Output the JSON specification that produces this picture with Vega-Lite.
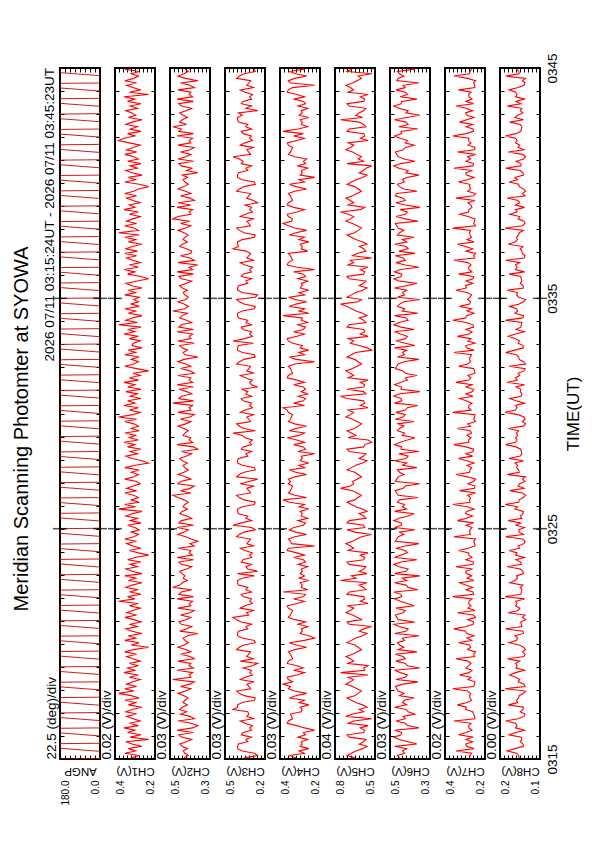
{
"$schema":"https://vega.github.io/schema/vega-lite/v6.json",
"background":"white",
"padding":{"left":11,"top":51,"right":0,"bottom":0},
"title":{"text":"Meridian Scanning Photomter at SYOWA","orient":"left","anchor":"middle","fontSize":20,"offset":10},
"spacing":15,
"bounds":"flush",
"datasets":{
"g":[
{"t":0,"a":180},{"t":1,"a":0},{"t":20,"a":0},{"t":28,"a":180},
{"t":40,"a":180},{"t":41,"a":0},{"t":60,"a":0},{"t":68,"a":180},
{"t":80,"a":180},{"t":81,"a":0},{"t":100,"a":0},{"t":108,"a":180},
{"t":120,"a":180},{"t":121,"a":0},{"t":140,"a":0},{"t":148,"a":180},
{"t":160,"a":180},{"t":161,"a":0},{"t":180,"a":0},{"t":188,"a":180},
{"t":200,"a":180},{"t":201,"a":0},{"t":220,"a":0},{"t":228,"a":180},
{"t":240,"a":180},{"t":241,"a":0},{"t":260,"a":0},{"t":268,"a":180},
{"t":280,"a":180},{"t":281,"a":0},{"t":300,"a":0},{"t":308,"a":180},
{"t":320,"a":180},{"t":321,"a":0},{"t":340,"a":0},{"t":348,"a":180},
{"t":360,"a":180},{"t":361,"a":0},{"t":380,"a":0},{"t":388,"a":180},
{"t":400,"a":180},{"t":401,"a":0},{"t":420,"a":0},{"t":428,"a":180},
{"t":440,"a":180},{"t":441,"a":0},{"t":460,"a":0},{"t":468,"a":180},
{"t":480,"a":180},{"t":481,"a":0},{"t":500,"a":0},{"t":508,"a":180},
{"t":520,"a":180},{"t":521,"a":0},{"t":540,"a":0},{"t":548,"a":180},
{"t":560,"a":180},{"t":561,"a":0},{"t":580,"a":0},{"t":588,"a":180},
{"t":600,"a":180},{"t":601,"a":0},{"t":620,"a":0},{"t":628,"a":180},
{"t":640,"a":180},{"t":641,"a":0},{"t":660,"a":0},{"t":668,"a":180},
{"t":680,"a":180},{"t":681,"a":0},{"t":700,"a":0},{"t":708,"a":180},
{"t":720,"a":180},{"t":721,"a":0},{"t":740,"a":0},{"t":748,"a":180},
{"t":760,"a":180},{"t":761,"a":0},{"t":780,"a":0},{"t":788,"a":180},
{"t":800,"a":180},{"t":801,"a":0},{"t":820,"a":0},{"t":828,"a":180},
{"t":840,"a":180},{"t":841,"a":0},{"t":860,"a":0},{"t":868,"a":180},
{"t":880,"a":180},{"t":881,"a":0},{"t":900,"a":0},{"t":908,"a":180},
{"t":920,"a":180},{"t":921,"a":0},{"t":940,"a":0},{"t":948,"a":180},
{"t":960,"a":180},{"t":961,"a":0},{"t":980,"a":0},{"t":988,"a":180},
{"t":1000,"a":180},{"t":1001,"a":0},{"t":1020,"a":0},{"t":1028,"a":180},
{"t":1040,"a":180},{"t":1041,"a":0},{"t":1060,"a":0},{"t":1068,"a":180},
{"t":1080,"a":180},{"t":1081,"a":0},{"t":1100,"a":0},{"t":1108,"a":180},
{"t":1120,"a":180},{"t":1121,"a":0},{"t":1140,"a":0},{"t":1148,"a":180},
{"t":1160,"a":180},{"t":1161,"a":0},{"t":1180,"a":0},{"t":1188,"a":180},
{"t":1200,"a":180},{"t":1201,"a":0},{"t":1220,"a":0},{"t":1228,"a":180},
{"t":1240,"a":180},{"t":1241,"a":0},{"t":1260,"a":0},{"t":1268,"a":180},
{"t":1280,"a":180},{"t":1281,"a":0},{"t":1300,"a":0},{"t":1308,"a":180},
{"t":1320,"a":180},{"t":1321,"a":0},{"t":1340,"a":0},{"t":1348,"a":180},
{"t":1360,"a":180},{"t":1361,"a":0},{"t":1380,"a":0},{"t":1388,"a":180},
{"t":1400,"a":180},{"t":1401,"a":0},{"t":1420,"a":0},{"t":1428,"a":180},
{"t":1440,"a":180},{"t":1441,"a":0},{"t":1460,"a":0},{"t":1468,"a":180},
{"t":1480,"a":180},{"t":1481,"a":0},{"t":1500,"a":0},{"t":1508,"a":180},
{"t":1520,"a":180},{"t":1521,"a":0},{"t":1540,"a":0},{"t":1548,"a":180},
{"t":1560,"a":180},{"t":1561,"a":0},{"t":1580,"a":0},{"t":1588,"a":180},
{"t":1600,"a":180},{"t":1601,"a":0},{"t":1620,"a":0},{"t":1628,"a":180},
{"t":1640,"a":180},{"t":1641,"a":0},{"t":1660,"a":0},{"t":1668,"a":180},
{"t":1680,"a":180},{"t":1681,"a":0},{"t":1700,"a":0},{"t":1708,"a":180},
{"t":1720,"a":180},{"t":1721,"a":0},{"t":1740,"a":0},{"t":1748,"a":180},
{"t":1760,"a":180},{"t":1761,"a":0},{"t":1780,"a":0},{"t":1788,"a":180},
{"t":1800,"a":180}
],
"d":[
{"t":3,"c1":0.319,"c2":0.442,"c3":0.357,"c4":0.327,"c5":0.642,"c6":0.473,"c7":0.277,"c8":0.1556},
{"t":9,"c1":0.279,"c2":0.412,"c3":0.255,"c4":0.369,"c5":0.712,"c6":0.488,"c7":0.275,"c8":0.156},
{"t":15,"c1":0.351,"c2":0.436,"c3":0.28,"c4":0.271,"c5":0.672,"c6":0.438,"c7":0.267,"c8":0.1576},
{"t":21,"c1":0.297,"c2":0.448,"c3":0.371,"c4":0.306,"c5":0.632,"c6":0.453,"c7":0.345,"c8":0.1645},
{"t":27,"c1":0.333,"c2":0.418,"c3":0.406,"c4":0.243,"c5":0.572,"c6":0.423,"c7":0.255,"c8":0.1588},
{"t":33,"c1":0.265,"c2":0.454,"c3":0.406,"c4":0.299,"c5":0.532,"c6":0.508,"c7":0.292,"c8":0.1524},
{"t":39,"c1":0.315,"c2":0.472,"c3":0.399,"c4":0.285,"c5":0.602,"c6":0.352,"c7":0.297,"c8":0.1528},
{"t":45,"c1":0.346,"c2":0.424,"c3":0.329,"c4":0.292,"c5":0.562,"c6":0.413,"c7":0.262,"c8":0.1548},
{"t":51,"c1":0.232,"c2":0.388,"c3":0.343,"c4":0.25,"c5":0.542,"c6":0.478,"c7":0.295,"c8":0.1536},
{"t":57,"c1":0.324,"c2":0.46,"c3":0.301,"c4":0.313,"c5":0.692,"c6":0.513,"c7":0.26,"c8":0.154},
{"t":63,"c1":0.27,"c2":0.478,"c3":0.378,"c4":0.264,"c5":0.712,"c6":0.463,"c7":0.332,"c8":0.1632},
{"t":69,"c1":0.337,"c2":0.376,"c3":0.364,"c4":0.278,"c5":0.562,"c6":0.458,"c7":0.295,"c8":0.158},
{"t":75,"c1":0.301,"c2":0.49,"c3":0.301,"c4":0.205,"c5":0.552,"c6":0.508,"c7":0.265,"c8":0.1516},
{"t":81,"c1":0.355,"c2":0.382,"c3":0.315,"c4":0.271,"c5":0.592,"c6":0.338,"c7":0.28,"c8":0.1584},
{"t":87,"c1":0.283,"c2":0.345,"c3":0.294,"c4":0.32,"c5":0.522,"c6":0.418,"c7":0.282,"c8":0.1572},
{"t":93,"c1":0.328,"c2":0.394,"c3":0.35,"c4":0.383,"c5":0.702,"c6":0.433,"c7":0.27,"c8":0.1584},
{"t":99,"c1":0.274,"c2":0.484,"c3":0.385,"c4":0.376,"c5":0.652,"c6":0.498,"c7":0.356,"c8":0.1658},
{"t":105,"c1":0.31,"c2":0.37,"c3":0.287,"c4":0.348,"c5":0.49,"c6":0.433,"c7":0.25,"c8":0.1564},
{"t":111,"c1":0.342,"c2":0.4,"c3":0.336,"c4":0.355,"c5":0.722,"c6":0.448,"c7":0.252,"c8":0.152},
{"t":117,"c1":0.292,"c2":0.466,"c3":0.322,"c4":0.362,"c5":0.662,"c6":0.366,"c7":0.257,"c8":0.1512},
{"t":123,"c1":0.346,"c2":0.424,"c3":0.329,"c4":0.292,"c5":0.562,"c6":0.413,"c7":0.262,"c8":0.1548},
{"t":129,"c1":0.315,"c2":0.472,"c3":0.44,"c4":0.285,"c5":0.602,"c6":0.428,"c7":0.297,"c8":0.1528},
{"t":135,"c1":0.265,"c2":0.454,"c3":0.406,"c4":0.299,"c5":0.532,"c6":0.508,"c7":0.292,"c8":0.1524},
{"t":141,"c1":0.333,"c2":0.418,"c3":0.406,"c4":0.243,"c5":0.572,"c6":0.423,"c7":0.338,"c8":0.1638},
{"t":147,"c1":0.297,"c2":0.448,"c3":0.371,"c4":0.306,"c5":0.632,"c6":0.453,"c7":0.29,"c8":0.1568},
{"t":153,"c1":0.351,"c2":0.436,"c3":0.28,"c4":0.271,"c5":0.672,"c6":0.438,"c7":0.267,"c8":0.1576},
{"t":159,"c1":0.279,"c2":0.412,"c3":0.273,"c4":0.369,"c5":0.712,"c6":0.371,"c7":0.275,"c8":0.156},
{"t":165,"c1":0.319,"c2":0.442,"c3":0.357,"c4":0.327,"c5":0.642,"c6":0.473,"c7":0.277,"c8":0.1556},
{"t":171,"c1":0.382,"c2":0.484,"c3":0.392,"c4":0.257,"c5":0.612,"c6":0.443,"c7":0.272,"c8":0.1524},
{"t":177,"c1":0.306,"c2":0.43,"c3":0.413,"c4":0.334,"c5":0.582,"c6":0.483,"c7":0.287,"c8":0.1508},
{"t":183,"c1":0.351,"c2":0.394,"c3":0.308,"c4":0.376,"c5":0.622,"c6":0.493,"c7":0.361,"c8":0.1661},
{"t":189,"c1":0.292,"c2":0.466,"c3":0.322,"c4":0.362,"c5":0.662,"c6":0.503,"c7":0.257,"c8":0.1512},
{"t":195,"c1":0.342,"c2":0.4,"c3":0.336,"c4":0.41,"c5":0.722,"c6":0.448,"c7":0.252,"c8":0.152},
{"t":201,"c1":0.31,"c2":0.37,"c3":0.287,"c4":0.348,"c5":0.682,"c6":0.345,"c7":0.25,"c8":0.1564},
{"t":207,"c1":0.274,"c2":0.52,"c3":0.385,"c4":0.376,"c5":0.652,"c6":0.498,"c7":0.285,"c8":0.1552},
{"t":213,"c1":0.328,"c2":0.394,"c3":0.35,"c4":0.383,"c5":0.702,"c6":0.433,"c7":0.27,"c8":0.1584},
{"t":219,"c1":0.283,"c2":0.406,"c3":0.294,"c4":0.32,"c5":0.522,"c6":0.418,"c7":0.327,"c8":0.1627},
{"t":225,"c1":0.355,"c2":0.382,"c3":0.315,"c4":0.271,"c5":0.77,"c6":0.468,"c7":0.28,"c8":0.1584},
{"t":231,"c1":0.301,"c2":0.49,"c3":0.301,"c4":0.341,"c5":0.552,"c6":0.508,"c7":0.265,"c8":0.1516},
{"t":237,"c1":0.337,"c2":0.376,"c3":0.364,"c4":0.278,"c5":0.562,"c6":0.331,"c7":0.295,"c8":0.158},
{"t":243,"c1":0.283,"c2":0.406,"c3":0.294,"c4":0.32,"c5":0.522,"c6":0.418,"c7":0.282,"c8":0.1572},
{"t":249,"c1":0.328,"c2":0.394,"c3":0.255,"c4":0.383,"c5":0.702,"c6":0.433,"c7":0.27,"c8":0.1584},
{"t":255,"c1":0.274,"c2":0.484,"c3":0.385,"c4":0.376,"c5":0.652,"c6":0.498,"c7":0.285,"c8":0.1552},
{"t":261,"c1":0.31,"c2":0.37,"c3":0.287,"c4":0.348,"c5":0.682,"c6":0.433,"c7":0.345,"c8":0.1645},
{"t":267,"c1":0.342,"c2":0.4,"c3":0.336,"c4":0.355,"c5":0.722,"c6":0.448,"c7":0.252,"c8":0.152},
{"t":273,"c1":0.292,"c2":0.466,"c3":0.322,"c4":0.362,"c5":0.662,"c6":0.503,"c7":0.257,"c8":0.1512},
{"t":279,"c1":0.351,"c2":0.394,"c3":0.308,"c4":0.376,"c5":0.622,"c6":0.352,"c7":0.247,"c8":0.1532},
{"t":285,"c1":0.306,"c2":0.43,"c3":0.413,"c4":0.334,"c5":0.582,"c6":0.483,"c7":0.287,"c8":0.1508},
{"t":291,"c1":0.232,"c2":0.484,"c3":0.392,"c4":0.257,"c5":0.612,"c6":0.443,"c7":0.272,"c8":0.1524},
{"t":297,"c1":0.319,"c2":0.442,"c3":0.357,"c4":0.327,"c5":0.642,"c6":0.473,"c7":0.277,"c8":0.1556},
{"t":303,"c1":0.279,"c2":0.412,"c3":0.273,"c4":0.369,"c5":0.712,"c6":0.488,"c7":0.332,"c8":0.1632},
{"t":309,"c1":0.351,"c2":0.436,"c3":0.28,"c4":0.271,"c5":0.672,"c6":0.438,"c7":0.267,"c8":0.1576},
{"t":315,"c1":0.297,"c2":0.448,"c3":0.371,"c4":0.205,"c5":0.632,"c6":0.453,"c7":0.29,"c8":0.1568},
{"t":321,"c1":0.333,"c2":0.418,"c3":0.406,"c4":0.243,"c5":0.572,"c6":0.338,"c7":0.255,"c8":0.1588},
{"t":327,"c1":0.265,"c2":0.345,"c3":0.406,"c4":0.299,"c5":0.532,"c6":0.508,"c7":0.292,"c8":0.1524},
{"t":333,"c1":0.315,"c2":0.472,"c3":0.399,"c4":0.285,"c5":0.602,"c6":0.428,"c7":0.297,"c8":0.1528},
{"t":339,"c1":0.346,"c2":0.424,"c3":0.329,"c4":0.292,"c5":0.562,"c6":0.413,"c7":0.356,"c8":0.1658},
{"t":345,"c1":0.288,"c2":0.388,"c3":0.343,"c4":0.25,"c5":0.49,"c6":0.478,"c7":0.295,"c8":0.1536},
{"t":351,"c1":0.324,"c2":0.46,"c3":0.301,"c4":0.313,"c5":0.692,"c6":0.513,"c7":0.26,"c8":0.154},
{"t":357,"c1":0.27,"c2":0.478,"c3":0.378,"c4":0.264,"c5":0.712,"c6":0.366,"c7":0.257,"c8":0.1544},
{"t":363,"c1":0.306,"c2":0.43,"c3":0.413,"c4":0.334,"c5":0.582,"c6":0.483,"c7":0.287,"c8":0.1508},
{"t":369,"c1":0.351,"c2":0.394,"c3":0.44,"c4":0.376,"c5":0.622,"c6":0.493,"c7":0.247,"c8":0.1532},
{"t":375,"c1":0.292,"c2":0.466,"c3":0.322,"c4":0.362,"c5":0.662,"c6":0.503,"c7":0.257,"c8":0.1512},
{"t":381,"c1":0.342,"c2":0.4,"c3":0.336,"c4":0.355,"c5":0.722,"c6":0.448,"c7":0.338,"c8":0.1638},
{"t":387,"c1":0.31,"c2":0.37,"c3":0.287,"c4":0.348,"c5":0.682,"c6":0.433,"c7":0.25,"c8":0.1564},
{"t":393,"c1":0.274,"c2":0.484,"c3":0.385,"c4":0.376,"c5":0.652,"c6":0.498,"c7":0.285,"c8":0.1552},
{"t":399,"c1":0.328,"c2":0.394,"c3":0.35,"c4":0.383,"c5":0.702,"c6":0.371,"c7":0.27,"c8":0.1584},
{"t":405,"c1":0.283,"c2":0.406,"c3":0.294,"c4":0.32,"c5":0.522,"c6":0.418,"c7":0.282,"c8":0.1572},
{"t":411,"c1":0.382,"c2":0.382,"c3":0.315,"c4":0.271,"c5":0.592,"c6":0.468,"c7":0.28,"c8":0.1584},
{"t":417,"c1":0.301,"c2":0.49,"c3":0.301,"c4":0.341,"c5":0.552,"c6":0.508,"c7":0.265,"c8":0.1516},
{"t":423,"c1":0.337,"c2":0.376,"c3":0.364,"c4":0.278,"c5":0.562,"c6":0.458,"c7":0.361,"c8":0.1661},
{"t":429,"c1":0.27,"c2":0.478,"c3":0.378,"c4":0.264,"c5":0.712,"c6":0.463,"c7":0.257,"c8":0.1544},
{"t":435,"c1":0.324,"c2":0.46,"c3":0.301,"c4":0.41,"c5":0.692,"c6":0.513,"c7":0.26,"c8":0.154},
{"t":441,"c1":0.288,"c2":0.388,"c3":0.343,"c4":0.25,"c5":0.542,"c6":0.345,"c7":0.295,"c8":0.1536},
{"t":447,"c1":0.346,"c2":0.52,"c3":0.329,"c4":0.292,"c5":0.562,"c6":0.413,"c7":0.262,"c8":0.1548},
{"t":453,"c1":0.315,"c2":0.472,"c3":0.399,"c4":0.285,"c5":0.602,"c6":0.428,"c7":0.297,"c8":0.1528},
{"t":459,"c1":0.265,"c2":0.454,"c3":0.406,"c4":0.299,"c5":0.532,"c6":0.508,"c7":0.327,"c8":0.1627},
{"t":465,"c1":0.333,"c2":0.418,"c3":0.406,"c4":0.243,"c5":0.77,"c6":0.423,"c7":0.255,"c8":0.1588},
{"t":471,"c1":0.297,"c2":0.448,"c3":0.371,"c4":0.306,"c5":0.632,"c6":0.453,"c7":0.29,"c8":0.1568},
{"t":477,"c1":0.351,"c2":0.436,"c3":0.28,"c4":0.271,"c5":0.672,"c6":0.331,"c7":0.267,"c8":0.1576},
{"t":483,"c1":0.265,"c2":0.454,"c3":0.406,"c4":0.299,"c5":0.532,"c6":0.508,"c7":0.292,"c8":0.1524},
{"t":489,"c1":0.315,"c2":0.472,"c3":0.255,"c4":0.285,"c5":0.602,"c6":0.428,"c7":0.297,"c8":0.1528},
{"t":495,"c1":0.346,"c2":0.424,"c3":0.329,"c4":0.292,"c5":0.562,"c6":0.413,"c7":0.262,"c8":0.1548},
{"t":501,"c1":0.288,"c2":0.388,"c3":0.343,"c4":0.25,"c5":0.542,"c6":0.478,"c7":0.345,"c8":0.1645},
{"t":507,"c1":0.324,"c2":0.46,"c3":0.301,"c4":0.313,"c5":0.692,"c6":0.513,"c7":0.26,"c8":0.154},
{"t":513,"c1":0.27,"c2":0.478,"c3":0.378,"c4":0.264,"c5":0.712,"c6":0.463,"c7":0.257,"c8":0.1544},
{"t":519,"c1":0.337,"c2":0.376,"c3":0.364,"c4":0.278,"c5":0.562,"c6":0.352,"c7":0.295,"c8":0.158},
{"t":525,"c1":0.301,"c2":0.49,"c3":0.301,"c4":0.341,"c5":0.552,"c6":0.508,"c7":0.265,"c8":0.1516},
{"t":531,"c1":0.232,"c2":0.382,"c3":0.315,"c4":0.271,"c5":0.592,"c6":0.468,"c7":0.28,"c8":0.1584},
{"t":537,"c1":0.283,"c2":0.406,"c3":0.294,"c4":0.32,"c5":0.522,"c6":0.418,"c7":0.282,"c8":0.1572},
{"t":543,"c1":0.328,"c2":0.394,"c3":0.35,"c4":0.383,"c5":0.702,"c6":0.433,"c7":0.332,"c8":0.1632},
{"t":549,"c1":0.274,"c2":0.484,"c3":0.385,"c4":0.376,"c5":0.652,"c6":0.498,"c7":0.285,"c8":0.1552},
{"t":555,"c1":0.31,"c2":0.37,"c3":0.287,"c4":0.205,"c5":0.682,"c6":0.433,"c7":0.25,"c8":0.1564},
{"t":561,"c1":0.342,"c2":0.4,"c3":0.336,"c4":0.355,"c5":0.722,"c6":0.338,"c7":0.252,"c8":0.152},
{"t":567,"c1":0.292,"c2":0.345,"c3":0.322,"c4":0.362,"c5":0.662,"c6":0.503,"c7":0.257,"c8":0.1512},
{"t":573,"c1":0.351,"c2":0.394,"c3":0.308,"c4":0.376,"c5":0.622,"c6":0.493,"c7":0.247,"c8":0.1532},
{"t":579,"c1":0.306,"c2":0.43,"c3":0.413,"c4":0.334,"c5":0.582,"c6":0.483,"c7":0.356,"c8":0.1658},
{"t":585,"c1":0.283,"c2":0.484,"c3":0.392,"c4":0.257,"c5":0.49,"c6":0.443,"c7":0.272,"c8":0.1524},
{"t":591,"c1":0.319,"c2":0.442,"c3":0.357,"c4":0.327,"c5":0.642,"c6":0.473,"c7":0.277,"c8":0.1556},
{"t":597,"c1":0.279,"c2":0.412,"c3":0.273,"c4":0.369,"c5":0.712,"c6":0.366,"c7":0.275,"c8":0.156},
{"t":603,"c1":0.301,"c2":0.49,"c3":0.301,"c4":0.341,"c5":0.552,"c6":0.508,"c7":0.265,"c8":0.1516},
{"t":609,"c1":0.337,"c2":0.376,"c3":0.44,"c4":0.278,"c5":0.562,"c6":0.458,"c7":0.295,"c8":0.158},
{"t":615,"c1":0.27,"c2":0.478,"c3":0.378,"c4":0.264,"c5":0.712,"c6":0.463,"c7":0.257,"c8":0.1544},
{"t":621,"c1":0.324,"c2":0.46,"c3":0.301,"c4":0.313,"c5":0.692,"c6":0.513,"c7":0.338,"c8":0.1638},
{"t":627,"c1":0.288,"c2":0.388,"c3":0.343,"c4":0.25,"c5":0.542,"c6":0.478,"c7":0.295,"c8":0.1536},
{"t":633,"c1":0.346,"c2":0.424,"c3":0.329,"c4":0.292,"c5":0.562,"c6":0.413,"c7":0.262,"c8":0.1548},
{"t":639,"c1":0.315,"c2":0.472,"c3":0.399,"c4":0.285,"c5":0.602,"c6":0.371,"c7":0.297,"c8":0.1528},
{"t":645,"c1":0.265,"c2":0.454,"c3":0.406,"c4":0.299,"c5":0.532,"c6":0.508,"c7":0.292,"c8":0.1524},
{"t":651,"c1":0.382,"c2":0.418,"c3":0.406,"c4":0.243,"c5":0.572,"c6":0.423,"c7":0.255,"c8":0.1588},
{"t":657,"c1":0.297,"c2":0.448,"c3":0.371,"c4":0.306,"c5":0.632,"c6":0.453,"c7":0.29,"c8":0.1568},
{"t":663,"c1":0.351,"c2":0.436,"c3":0.28,"c4":0.271,"c5":0.672,"c6":0.438,"c7":0.361,"c8":0.1661},
{"t":669,"c1":0.279,"c2":0.412,"c3":0.273,"c4":0.369,"c5":0.712,"c6":0.488,"c7":0.275,"c8":0.156},
{"t":675,"c1":0.319,"c2":0.442,"c3":0.357,"c4":0.41,"c5":0.642,"c6":0.473,"c7":0.277,"c8":0.1556},
{"t":681,"c1":0.283,"c2":0.484,"c3":0.392,"c4":0.257,"c5":0.612,"c6":0.345,"c7":0.272,"c8":0.1524},
{"t":687,"c1":0.306,"c2":0.52,"c3":0.413,"c4":0.334,"c5":0.582,"c6":0.483,"c7":0.287,"c8":0.1508},
{"t":693,"c1":0.351,"c2":0.394,"c3":0.308,"c4":0.376,"c5":0.622,"c6":0.493,"c7":0.247,"c8":0.1532},
{"t":699,"c1":0.292,"c2":0.466,"c3":0.322,"c4":0.362,"c5":0.662,"c6":0.503,"c7":0.327,"c8":0.1627},
{"t":705,"c1":0.342,"c2":0.4,"c3":0.336,"c4":0.355,"c5":0.77,"c6":0.448,"c7":0.252,"c8":0.152},
{"t":711,"c1":0.31,"c2":0.37,"c3":0.287,"c4":0.348,"c5":0.682,"c6":0.433,"c7":0.25,"c8":0.1564},
{"t":717,"c1":0.274,"c2":0.484,"c3":0.385,"c4":0.376,"c5":0.652,"c6":0.331,"c7":0.285,"c8":0.1552},
{"t":723,"c1":0.292,"c2":0.466,"c3":0.322,"c4":0.362,"c5":0.662,"c6":0.503,"c7":0.257,"c8":0.1512},
{"t":729,"c1":0.351,"c2":0.394,"c3":0.255,"c4":0.376,"c5":0.622,"c6":0.493,"c7":0.247,"c8":0.1532},
{"t":735,"c1":0.306,"c2":0.43,"c3":0.413,"c4":0.334,"c5":0.582,"c6":0.483,"c7":0.287,"c8":0.1508},
{"t":741,"c1":0.283,"c2":0.484,"c3":0.392,"c4":0.257,"c5":0.612,"c6":0.443,"c7":0.345,"c8":0.1645},
{"t":747,"c1":0.319,"c2":0.442,"c3":0.357,"c4":0.327,"c5":0.642,"c6":0.473,"c7":0.277,"c8":0.1556},
{"t":753,"c1":0.279,"c2":0.412,"c3":0.273,"c4":0.369,"c5":0.712,"c6":0.488,"c7":0.275,"c8":0.156},
{"t":759,"c1":0.351,"c2":0.436,"c3":0.28,"c4":0.271,"c5":0.672,"c6":0.352,"c7":0.267,"c8":0.1576},
{"t":765,"c1":0.297,"c2":0.448,"c3":0.371,"c4":0.306,"c5":0.632,"c6":0.453,"c7":0.29,"c8":0.1568},
{"t":771,"c1":0.232,"c2":0.418,"c3":0.406,"c4":0.243,"c5":0.572,"c6":0.423,"c7":0.255,"c8":0.1588},
{"t":777,"c1":0.265,"c2":0.454,"c3":0.406,"c4":0.299,"c5":0.532,"c6":0.508,"c7":0.292,"c8":0.1524},
{"t":783,"c1":0.315,"c2":0.472,"c3":0.399,"c4":0.285,"c5":0.602,"c6":0.428,"c7":0.332,"c8":0.1632},
{"t":789,"c1":0.346,"c2":0.424,"c3":0.329,"c4":0.292,"c5":0.562,"c6":0.413,"c7":0.262,"c8":0.1548},
{"t":795,"c1":0.288,"c2":0.388,"c3":0.343,"c4":0.205,"c5":0.542,"c6":0.478,"c7":0.295,"c8":0.1536},
{"t":801,"c1":0.324,"c2":0.46,"c3":0.301,"c4":0.313,"c5":0.692,"c6":0.338,"c7":0.26,"c8":0.154},
{"t":807,"c1":0.27,"c2":0.345,"c3":0.378,"c4":0.264,"c5":0.712,"c6":0.463,"c7":0.257,"c8":0.1544},
{"t":813,"c1":0.337,"c2":0.376,"c3":0.364,"c4":0.278,"c5":0.562,"c6":0.458,"c7":0.295,"c8":0.158},
{"t":819,"c1":0.301,"c2":0.49,"c3":0.301,"c4":0.341,"c5":0.552,"c6":0.508,"c7":0.356,"c8":0.1658},
{"t":825,"c1":0.355,"c2":0.382,"c3":0.315,"c4":0.271,"c5":0.49,"c6":0.468,"c7":0.28,"c8":0.1584},
{"t":831,"c1":0.283,"c2":0.406,"c3":0.294,"c4":0.32,"c5":0.522,"c6":0.418,"c7":0.282,"c8":0.1572},
{"t":837,"c1":0.328,"c2":0.394,"c3":0.35,"c4":0.383,"c5":0.702,"c6":0.366,"c7":0.27,"c8":0.1584},
{"t":843,"c1":0.297,"c2":0.448,"c3":0.371,"c4":0.306,"c5":0.632,"c6":0.453,"c7":0.29,"c8":0.1568},
{"t":849,"c1":0.351,"c2":0.436,"c3":0.44,"c4":0.271,"c5":0.672,"c6":0.438,"c7":0.267,"c8":0.1576},
{"t":855,"c1":0.279,"c2":0.412,"c3":0.273,"c4":0.369,"c5":0.712,"c6":0.488,"c7":0.275,"c8":0.156},
{"t":861,"c1":0.319,"c2":0.442,"c3":0.357,"c4":0.327,"c5":0.642,"c6":0.473,"c7":0.338,"c8":0.1638},
{"t":867,"c1":0.283,"c2":0.484,"c3":0.392,"c4":0.257,"c5":0.612,"c6":0.443,"c7":0.272,"c8":0.1524},
{"t":873,"c1":0.306,"c2":0.43,"c3":0.413,"c4":0.334,"c5":0.582,"c6":0.483,"c7":0.287,"c8":0.1508},
{"t":879,"c1":0.351,"c2":0.394,"c3":0.308,"c4":0.376,"c5":0.622,"c6":0.371,"c7":0.247,"c8":0.1532},
{"t":885,"c1":0.292,"c2":0.466,"c3":0.322,"c4":0.362,"c5":0.662,"c6":0.503,"c7":0.257,"c8":0.1512},
{"t":891,"c1":0.382,"c2":0.4,"c3":0.336,"c4":0.355,"c5":0.722,"c6":0.448,"c7":0.252,"c8":0.152},
{"t":897,"c1":0.31,"c2":0.37,"c3":0.287,"c4":0.348,"c5":0.682,"c6":0.433,"c7":0.25,"c8":0.1564},
{"t":903,"c1":0.274,"c2":0.484,"c3":0.385,"c4":0.376,"c5":0.652,"c6":0.498,"c7":0.361,"c8":0.1661},
{"t":909,"c1":0.328,"c2":0.394,"c3":0.35,"c4":0.383,"c5":0.702,"c6":0.433,"c7":0.27,"c8":0.1584},
{"t":915,"c1":0.283,"c2":0.406,"c3":0.294,"c4":0.41,"c5":0.522,"c6":0.418,"c7":0.282,"c8":0.1572},
{"t":921,"c1":0.355,"c2":0.382,"c3":0.315,"c4":0.271,"c5":0.592,"c6":0.345,"c7":0.28,"c8":0.1584},
{"t":927,"c1":0.301,"c2":0.52,"c3":0.301,"c4":0.341,"c5":0.552,"c6":0.508,"c7":0.265,"c8":0.1516},
{"t":933,"c1":0.337,"c2":0.376,"c3":0.364,"c4":0.278,"c5":0.562,"c6":0.458,"c7":0.295,"c8":0.158},
{"t":939,"c1":0.27,"c2":0.478,"c3":0.378,"c4":0.264,"c5":0.712,"c6":0.463,"c7":0.327,"c8":0.1627},
{"t":945,"c1":0.324,"c2":0.46,"c3":0.301,"c4":0.313,"c5":0.77,"c6":0.513,"c7":0.26,"c8":0.154},
{"t":951,"c1":0.288,"c2":0.388,"c3":0.343,"c4":0.25,"c5":0.542,"c6":0.478,"c7":0.295,"c8":0.1536},
{"t":957,"c1":0.346,"c2":0.424,"c3":0.329,"c4":0.292,"c5":0.562,"c6":0.331,"c7":0.262,"c8":0.1548},
{"t":963,"c1":0.27,"c2":0.478,"c3":0.378,"c4":0.264,"c5":0.712,"c6":0.463,"c7":0.257,"c8":0.1544},
{"t":969,"c1":0.337,"c2":0.376,"c3":0.255,"c4":0.278,"c5":0.562,"c6":0.458,"c7":0.295,"c8":0.158},
{"t":975,"c1":0.301,"c2":0.49,"c3":0.301,"c4":0.341,"c5":0.552,"c6":0.508,"c7":0.265,"c8":0.1516},
{"t":981,"c1":0.355,"c2":0.382,"c3":0.315,"c4":0.271,"c5":0.592,"c6":0.468,"c7":0.345,"c8":0.1645},
{"t":987,"c1":0.283,"c2":0.406,"c3":0.294,"c4":0.32,"c5":0.522,"c6":0.418,"c7":0.282,"c8":0.1572},
{"t":993,"c1":0.328,"c2":0.394,"c3":0.35,"c4":0.383,"c5":0.702,"c6":0.433,"c7":0.27,"c8":0.1584},
{"t":999,"c1":0.274,"c2":0.484,"c3":0.385,"c4":0.376,"c5":0.652,"c6":0.352,"c7":0.285,"c8":0.1552},
{"t":1005,"c1":0.31,"c2":0.37,"c3":0.287,"c4":0.348,"c5":0.682,"c6":0.433,"c7":0.25,"c8":0.1564},
{"t":1011,"c1":0.232,"c2":0.4,"c3":0.336,"c4":0.355,"c5":0.722,"c6":0.448,"c7":0.252,"c8":0.152},
{"t":1017,"c1":0.292,"c2":0.466,"c3":0.322,"c4":0.362,"c5":0.662,"c6":0.503,"c7":0.257,"c8":0.1512},
{"t":1023,"c1":0.351,"c2":0.394,"c3":0.308,"c4":0.376,"c5":0.622,"c6":0.493,"c7":0.332,"c8":0.1632},
{"t":1029,"c1":0.306,"c2":0.43,"c3":0.413,"c4":0.334,"c5":0.582,"c6":0.483,"c7":0.287,"c8":0.1508},
{"t":1035,"c1":0.283,"c2":0.484,"c3":0.392,"c4":0.205,"c5":0.612,"c6":0.443,"c7":0.272,"c8":0.1524},
{"t":1041,"c1":0.319,"c2":0.442,"c3":0.357,"c4":0.327,"c5":0.642,"c6":0.338,"c7":0.277,"c8":0.1556},
{"t":1047,"c1":0.279,"c2":0.345,"c3":0.273,"c4":0.369,"c5":0.712,"c6":0.488,"c7":0.275,"c8":0.156},
{"t":1053,"c1":0.351,"c2":0.436,"c3":0.28,"c4":0.271,"c5":0.672,"c6":0.438,"c7":0.267,"c8":0.1576},
{"t":1059,"c1":0.297,"c2":0.448,"c3":0.371,"c4":0.306,"c5":0.632,"c6":0.453,"c7":0.356,"c8":0.1658},
{"t":1065,"c1":0.333,"c2":0.418,"c3":0.406,"c4":0.243,"c5":0.49,"c6":0.423,"c7":0.255,"c8":0.1588},
{"t":1071,"c1":0.265,"c2":0.454,"c3":0.406,"c4":0.299,"c5":0.532,"c6":0.508,"c7":0.292,"c8":0.1524},
{"t":1077,"c1":0.315,"c2":0.472,"c3":0.399,"c4":0.285,"c5":0.602,"c6":0.366,"c7":0.297,"c8":0.1528},
{"t":1083,"c1":0.31,"c2":0.37,"c3":0.287,"c4":0.348,"c5":0.682,"c6":0.433,"c7":0.25,"c8":0.1564},
{"t":1089,"c1":0.274,"c2":0.484,"c3":0.44,"c4":0.376,"c5":0.652,"c6":0.498,"c7":0.285,"c8":0.1552},
{"t":1095,"c1":0.328,"c2":0.394,"c3":0.35,"c4":0.383,"c5":0.702,"c6":0.433,"c7":0.27,"c8":0.1584},
{"t":1101,"c1":0.283,"c2":0.406,"c3":0.294,"c4":0.32,"c5":0.522,"c6":0.418,"c7":0.338,"c8":0.1638},
{"t":1107,"c1":0.355,"c2":0.382,"c3":0.315,"c4":0.271,"c5":0.592,"c6":0.468,"c7":0.28,"c8":0.1584},
{"t":1113,"c1":0.301,"c2":0.49,"c3":0.301,"c4":0.341,"c5":0.552,"c6":0.508,"c7":0.265,"c8":0.1516},
{"t":1119,"c1":0.337,"c2":0.376,"c3":0.364,"c4":0.278,"c5":0.562,"c6":0.371,"c7":0.295,"c8":0.158},
{"t":1125,"c1":0.27,"c2":0.478,"c3":0.378,"c4":0.264,"c5":0.712,"c6":0.463,"c7":0.257,"c8":0.1544},
{"t":1131,"c1":0.382,"c2":0.46,"c3":0.301,"c4":0.313,"c5":0.692,"c6":0.513,"c7":0.26,"c8":0.154},
{"t":1137,"c1":0.288,"c2":0.388,"c3":0.343,"c4":0.25,"c5":0.542,"c6":0.478,"c7":0.295,"c8":0.1536},
{"t":1143,"c1":0.346,"c2":0.424,"c3":0.329,"c4":0.292,"c5":0.562,"c6":0.413,"c7":0.361,"c8":0.1661},
{"t":1149,"c1":0.315,"c2":0.472,"c3":0.399,"c4":0.285,"c5":0.602,"c6":0.428,"c7":0.297,"c8":0.1528},
{"t":1155,"c1":0.265,"c2":0.454,"c3":0.406,"c4":0.41,"c5":0.532,"c6":0.508,"c7":0.292,"c8":0.1524},
{"t":1161,"c1":0.333,"c2":0.418,"c3":0.406,"c4":0.243,"c5":0.572,"c6":0.345,"c7":0.255,"c8":0.1588},
{"t":1167,"c1":0.297,"c2":0.52,"c3":0.371,"c4":0.306,"c5":0.632,"c6":0.453,"c7":0.29,"c8":0.1568},
{"t":1173,"c1":0.351,"c2":0.436,"c3":0.28,"c4":0.271,"c5":0.672,"c6":0.438,"c7":0.267,"c8":0.1576},
{"t":1179,"c1":0.279,"c2":0.412,"c3":0.273,"c4":0.369,"c5":0.712,"c6":0.488,"c7":0.327,"c8":0.1627},
{"t":1185,"c1":0.319,"c2":0.442,"c3":0.357,"c4":0.327,"c5":0.77,"c6":0.473,"c7":0.277,"c8":0.1556},
{"t":1191,"c1":0.283,"c2":0.484,"c3":0.392,"c4":0.257,"c5":0.612,"c6":0.443,"c7":0.272,"c8":0.1524},
{"t":1197,"c1":0.306,"c2":0.43,"c3":0.413,"c4":0.334,"c5":0.582,"c6":0.331,"c7":0.287,"c8":0.1508},
{"t":1203,"c1":0.279,"c2":0.412,"c3":0.273,"c4":0.369,"c5":0.712,"c6":0.488,"c7":0.275,"c8":0.156},
{"t":1209,"c1":0.351,"c2":0.436,"c3":0.255,"c4":0.271,"c5":0.672,"c6":0.438,"c7":0.267,"c8":0.1576},
{"t":1215,"c1":0.297,"c2":0.448,"c3":0.371,"c4":0.306,"c5":0.632,"c6":0.453,"c7":0.29,"c8":0.1568},
{"t":1221,"c1":0.333,"c2":0.418,"c3":0.406,"c4":0.243,"c5":0.572,"c6":0.423,"c7":0.345,"c8":0.1645},
{"t":1227,"c1":0.265,"c2":0.454,"c3":0.406,"c4":0.299,"c5":0.532,"c6":0.508,"c7":0.292,"c8":0.1524},
{"t":1233,"c1":0.315,"c2":0.472,"c3":0.399,"c4":0.285,"c5":0.602,"c6":0.428,"c7":0.297,"c8":0.1528},
{"t":1239,"c1":0.346,"c2":0.424,"c3":0.329,"c4":0.292,"c5":0.562,"c6":0.352,"c7":0.262,"c8":0.1548},
{"t":1245,"c1":0.288,"c2":0.388,"c3":0.343,"c4":0.25,"c5":0.542,"c6":0.478,"c7":0.295,"c8":0.1536},
{"t":1251,"c1":0.232,"c2":0.46,"c3":0.301,"c4":0.313,"c5":0.692,"c6":0.513,"c7":0.26,"c8":0.154},
{"t":1257,"c1":0.27,"c2":0.478,"c3":0.378,"c4":0.264,"c5":0.712,"c6":0.463,"c7":0.257,"c8":0.1544},
{"t":1263,"c1":0.337,"c2":0.376,"c3":0.364,"c4":0.278,"c5":0.562,"c6":0.458,"c7":0.332,"c8":0.1632},
{"t":1269,"c1":0.301,"c2":0.49,"c3":0.301,"c4":0.341,"c5":0.552,"c6":0.508,"c7":0.265,"c8":0.1516},
{"t":1275,"c1":0.355,"c2":0.382,"c3":0.315,"c4":0.205,"c5":0.592,"c6":0.468,"c7":0.28,"c8":0.1584},
{"t":1281,"c1":0.283,"c2":0.406,"c3":0.294,"c4":0.32,"c5":0.522,"c6":0.338,"c7":0.282,"c8":0.1572},
{"t":1287,"c1":0.328,"c2":0.345,"c3":0.35,"c4":0.383,"c5":0.702,"c6":0.433,"c7":0.27,"c8":0.1584},
{"t":1293,"c1":0.274,"c2":0.484,"c3":0.385,"c4":0.376,"c5":0.652,"c6":0.498,"c7":0.285,"c8":0.1552},
{"t":1299,"c1":0.31,"c2":0.37,"c3":0.287,"c4":0.348,"c5":0.682,"c6":0.433,"c7":0.356,"c8":0.1658},
{"t":1305,"c1":0.342,"c2":0.4,"c3":0.336,"c4":0.355,"c5":0.49,"c6":0.448,"c7":0.252,"c8":0.152},
{"t":1311,"c1":0.292,"c2":0.466,"c3":0.322,"c4":0.362,"c5":0.662,"c6":0.503,"c7":0.257,"c8":0.1512},
{"t":1317,"c1":0.351,"c2":0.394,"c3":0.308,"c4":0.376,"c5":0.622,"c6":0.366,"c7":0.247,"c8":0.1532},
{"t":1323,"c1":0.288,"c2":0.388,"c3":0.343,"c4":0.25,"c5":0.542,"c6":0.478,"c7":0.295,"c8":0.1536},
{"t":1329,"c1":0.346,"c2":0.424,"c3":0.44,"c4":0.292,"c5":0.562,"c6":0.413,"c7":0.262,"c8":0.1548},
{"t":1335,"c1":0.315,"c2":0.472,"c3":0.399,"c4":0.285,"c5":0.602,"c6":0.428,"c7":0.297,"c8":0.1528},
{"t":1341,"c1":0.265,"c2":0.454,"c3":0.406,"c4":0.299,"c5":0.532,"c6":0.508,"c7":0.338,"c8":0.1638},
{"t":1347,"c1":0.333,"c2":0.418,"c3":0.406,"c4":0.243,"c5":0.572,"c6":0.423,"c7":0.255,"c8":0.1588},
{"t":1353,"c1":0.297,"c2":0.448,"c3":0.371,"c4":0.306,"c5":0.632,"c6":0.453,"c7":0.29,"c8":0.1568},
{"t":1359,"c1":0.351,"c2":0.436,"c3":0.28,"c4":0.271,"c5":0.672,"c6":0.371,"c7":0.267,"c8":0.1576},
{"t":1365,"c1":0.279,"c2":0.412,"c3":0.273,"c4":0.369,"c5":0.712,"c6":0.488,"c7":0.275,"c8":0.156},
{"t":1371,"c1":0.382,"c2":0.442,"c3":0.357,"c4":0.327,"c5":0.642,"c6":0.473,"c7":0.277,"c8":0.1556},
{"t":1377,"c1":0.283,"c2":0.484,"c3":0.392,"c4":0.257,"c5":0.612,"c6":0.443,"c7":0.272,"c8":0.1524},
{"t":1383,"c1":0.306,"c2":0.43,"c3":0.413,"c4":0.334,"c5":0.582,"c6":0.483,"c7":0.361,"c8":0.1661},
{"t":1389,"c1":0.351,"c2":0.394,"c3":0.308,"c4":0.376,"c5":0.622,"c6":0.493,"c7":0.247,"c8":0.1532},
{"t":1395,"c1":0.292,"c2":0.466,"c3":0.322,"c4":0.41,"c5":0.662,"c6":0.503,"c7":0.257,"c8":0.1512},
{"t":1401,"c1":0.342,"c2":0.4,"c3":0.336,"c4":0.355,"c5":0.722,"c6":0.345,"c7":0.252,"c8":0.152},
{"t":1407,"c1":0.31,"c2":0.52,"c3":0.287,"c4":0.348,"c5":0.682,"c6":0.433,"c7":0.25,"c8":0.1564},
{"t":1413,"c1":0.274,"c2":0.484,"c3":0.385,"c4":0.376,"c5":0.652,"c6":0.498,"c7":0.285,"c8":0.1552},
{"t":1419,"c1":0.328,"c2":0.394,"c3":0.35,"c4":0.383,"c5":0.702,"c6":0.433,"c7":0.327,"c8":0.1627},
{"t":1425,"c1":0.283,"c2":0.406,"c3":0.294,"c4":0.32,"c5":0.77,"c6":0.418,"c7":0.282,"c8":0.1572},
{"t":1431,"c1":0.355,"c2":0.382,"c3":0.315,"c4":0.271,"c5":0.592,"c6":0.468,"c7":0.28,"c8":0.1584},
{"t":1437,"c1":0.301,"c2":0.49,"c3":0.301,"c4":0.341,"c5":0.552,"c6":0.331,"c7":0.265,"c8":0.1516},
{"t":1443,"c1":0.328,"c2":0.394,"c3":0.35,"c4":0.383,"c5":0.702,"c6":0.433,"c7":0.27,"c8":0.1584},
{"t":1449,"c1":0.274,"c2":0.484,"c3":0.255,"c4":0.376,"c5":0.652,"c6":0.498,"c7":0.285,"c8":0.1552},
{"t":1455,"c1":0.31,"c2":0.37,"c3":0.287,"c4":0.348,"c5":0.682,"c6":0.433,"c7":0.25,"c8":0.1564},
{"t":1461,"c1":0.342,"c2":0.4,"c3":0.336,"c4":0.355,"c5":0.722,"c6":0.448,"c7":0.345,"c8":0.1645},
{"t":1467,"c1":0.292,"c2":0.466,"c3":0.322,"c4":0.362,"c5":0.662,"c6":0.503,"c7":0.257,"c8":0.1512},
{"t":1473,"c1":0.351,"c2":0.394,"c3":0.308,"c4":0.376,"c5":0.622,"c6":0.493,"c7":0.247,"c8":0.1532},
{"t":1479,"c1":0.306,"c2":0.43,"c3":0.413,"c4":0.334,"c5":0.582,"c6":0.352,"c7":0.287,"c8":0.1508},
{"t":1485,"c1":0.283,"c2":0.484,"c3":0.392,"c4":0.257,"c5":0.612,"c6":0.443,"c7":0.272,"c8":0.1524},
{"t":1491,"c1":0.232,"c2":0.442,"c3":0.357,"c4":0.327,"c5":0.642,"c6":0.473,"c7":0.277,"c8":0.1556},
{"t":1497,"c1":0.279,"c2":0.412,"c3":0.273,"c4":0.369,"c5":0.712,"c6":0.488,"c7":0.275,"c8":0.156},
{"t":1503,"c1":0.351,"c2":0.436,"c3":0.28,"c4":0.271,"c5":0.672,"c6":0.438,"c7":0.332,"c8":0.1632},
{"t":1509,"c1":0.297,"c2":0.448,"c3":0.371,"c4":0.306,"c5":0.632,"c6":0.453,"c7":0.29,"c8":0.1568},
{"t":1515,"c1":0.333,"c2":0.418,"c3":0.406,"c4":0.205,"c5":0.572,"c6":0.423,"c7":0.255,"c8":0.1588},
{"t":1521,"c1":0.265,"c2":0.454,"c3":0.406,"c4":0.299,"c5":0.532,"c6":0.338,"c7":0.292,"c8":0.1524},
{"t":1527,"c1":0.315,"c2":0.345,"c3":0.399,"c4":0.285,"c5":0.602,"c6":0.428,"c7":0.297,"c8":0.1528},
{"t":1533,"c1":0.346,"c2":0.424,"c3":0.329,"c4":0.292,"c5":0.562,"c6":0.413,"c7":0.262,"c8":0.1548},
{"t":1539,"c1":0.288,"c2":0.388,"c3":0.343,"c4":0.25,"c5":0.542,"c6":0.478,"c7":0.356,"c8":0.1658},
{"t":1545,"c1":0.324,"c2":0.46,"c3":0.301,"c4":0.313,"c5":0.49,"c6":0.513,"c7":0.26,"c8":0.154},
{"t":1551,"c1":0.27,"c2":0.478,"c3":0.378,"c4":0.264,"c5":0.712,"c6":0.463,"c7":0.257,"c8":0.1544},
{"t":1557,"c1":0.337,"c2":0.376,"c3":0.364,"c4":0.278,"c5":0.562,"c6":0.366,"c7":0.295,"c8":0.158},
{"t":1563,"c1":0.283,"c2":0.484,"c3":0.392,"c4":0.257,"c5":0.612,"c6":0.443,"c7":0.272,"c8":0.1524},
{"t":1569,"c1":0.306,"c2":0.43,"c3":0.44,"c4":0.334,"c5":0.582,"c6":0.483,"c7":0.287,"c8":0.1508},
{"t":1575,"c1":0.351,"c2":0.394,"c3":0.308,"c4":0.376,"c5":0.622,"c6":0.493,"c7":0.247,"c8":0.1532},
{"t":1581,"c1":0.292,"c2":0.466,"c3":0.322,"c4":0.362,"c5":0.662,"c6":0.503,"c7":0.338,"c8":0.1638},
{"t":1587,"c1":0.342,"c2":0.4,"c3":0.336,"c4":0.355,"c5":0.722,"c6":0.448,"c7":0.252,"c8":0.152},
{"t":1593,"c1":0.31,"c2":0.37,"c3":0.287,"c4":0.348,"c5":0.682,"c6":0.433,"c7":0.25,"c8":0.1564},
{"t":1599,"c1":0.274,"c2":0.484,"c3":0.385,"c4":0.376,"c5":0.652,"c6":0.371,"c7":0.285,"c8":0.1552},
{"t":1605,"c1":0.328,"c2":0.394,"c3":0.35,"c4":0.383,"c5":0.702,"c6":0.433,"c7":0.27,"c8":0.1584},
{"t":1611,"c1":0.382,"c2":0.406,"c3":0.294,"c4":0.32,"c5":0.522,"c6":0.418,"c7":0.282,"c8":0.1572},
{"t":1617,"c1":0.355,"c2":0.382,"c3":0.315,"c4":0.271,"c5":0.592,"c6":0.468,"c7":0.28,"c8":0.1584},
{"t":1623,"c1":0.301,"c2":0.49,"c3":0.301,"c4":0.341,"c5":0.552,"c6":0.508,"c7":0.361,"c8":0.1661},
{"t":1629,"c1":0.337,"c2":0.376,"c3":0.364,"c4":0.278,"c5":0.562,"c6":0.458,"c7":0.295,"c8":0.158},
{"t":1635,"c1":0.27,"c2":0.478,"c3":0.378,"c4":0.41,"c5":0.712,"c6":0.463,"c7":0.257,"c8":0.1544},
{"t":1641,"c1":0.324,"c2":0.46,"c3":0.301,"c4":0.313,"c5":0.692,"c6":0.345,"c7":0.26,"c8":0.154},
{"t":1647,"c1":0.288,"c2":0.52,"c3":0.343,"c4":0.25,"c5":0.542,"c6":0.478,"c7":0.295,"c8":0.1536},
{"t":1653,"c1":0.346,"c2":0.424,"c3":0.329,"c4":0.292,"c5":0.562,"c6":0.413,"c7":0.262,"c8":0.1548},
{"t":1659,"c1":0.315,"c2":0.472,"c3":0.399,"c4":0.285,"c5":0.602,"c6":0.428,"c7":0.327,"c8":0.1627},
{"t":1665,"c1":0.265,"c2":0.454,"c3":0.406,"c4":0.299,"c5":0.77,"c6":0.508,"c7":0.292,"c8":0.1524},
{"t":1671,"c1":0.333,"c2":0.418,"c3":0.406,"c4":0.243,"c5":0.572,"c6":0.423,"c7":0.255,"c8":0.1588},
{"t":1677,"c1":0.297,"c2":0.448,"c3":0.371,"c4":0.306,"c5":0.632,"c6":0.331,"c7":0.29,"c8":0.1568},
{"t":1683,"c1":0.315,"c2":0.472,"c3":0.399,"c4":0.285,"c5":0.602,"c6":0.428,"c7":0.297,"c8":0.1528},
{"t":1689,"c1":0.346,"c2":0.424,"c3":0.255,"c4":0.292,"c5":0.562,"c6":0.413,"c7":0.262,"c8":0.1548},
{"t":1695,"c1":0.288,"c2":0.388,"c3":0.343,"c4":0.25,"c5":0.542,"c6":0.478,"c7":0.295,"c8":0.1536},
{"t":1701,"c1":0.324,"c2":0.46,"c3":0.301,"c4":0.313,"c5":0.692,"c6":0.513,"c7":0.345,"c8":0.1645},
{"t":1707,"c1":0.27,"c2":0.478,"c3":0.378,"c4":0.264,"c5":0.712,"c6":0.463,"c7":0.257,"c8":0.1544},
{"t":1713,"c1":0.337,"c2":0.376,"c3":0.364,"c4":0.278,"c5":0.562,"c6":0.458,"c7":0.295,"c8":0.158},
{"t":1719,"c1":0.301,"c2":0.49,"c3":0.301,"c4":0.341,"c5":0.552,"c6":0.352,"c7":0.265,"c8":0.1516},
{"t":1725,"c1":0.355,"c2":0.382,"c3":0.315,"c4":0.271,"c5":0.592,"c6":0.468,"c7":0.28,"c8":0.1584},
{"t":1731,"c1":0.232,"c2":0.406,"c3":0.294,"c4":0.32,"c5":0.522,"c6":0.418,"c7":0.282,"c8":0.1572},
{"t":1737,"c1":0.328,"c2":0.394,"c3":0.35,"c4":0.383,"c5":0.702,"c6":0.433,"c7":0.27,"c8":0.1584},
{"t":1743,"c1":0.274,"c2":0.484,"c3":0.385,"c4":0.376,"c5":0.652,"c6":0.498,"c7":0.332,"c8":0.1632},
{"t":1749,"c1":0.31,"c2":0.37,"c3":0.287,"c4":0.348,"c5":0.682,"c6":0.433,"c7":0.25,"c8":0.1564},
{"t":1755,"c1":0.342,"c2":0.4,"c3":0.336,"c4":0.205,"c5":0.722,"c6":0.448,"c7":0.252,"c8":0.152},
{"t":1761,"c1":0.292,"c2":0.466,"c3":0.322,"c4":0.362,"c5":0.662,"c6":0.338,"c7":0.257,"c8":0.1512},
{"t":1767,"c1":0.351,"c2":0.345,"c3":0.308,"c4":0.376,"c5":0.622,"c6":0.493,"c7":0.247,"c8":0.1532},
{"t":1773,"c1":0.306,"c2":0.43,"c3":0.413,"c4":0.334,"c5":0.582,"c6":0.483,"c7":0.287,"c8":0.1508},
{"t":1779,"c1":0.283,"c2":0.484,"c3":0.392,"c4":0.257,"c5":0.612,"c6":0.443,"c7":0.356,"c8":0.1658},
{"t":1785,"c1":0.319,"c2":0.442,"c3":0.357,"c4":0.327,"c5":0.49,"c6":0.473,"c7":0.277,"c8":0.1556},
{"t":1791,"c1":0.279,"c2":0.412,"c3":0.273,"c4":0.369,"c5":0.712,"c6":0.488,"c7":0.275,"c8":0.156},
{"t":1797,"c1":0.351,"c2":0.436,"c3":0.28,"c4":0.271,"c5":0.672,"c6":0.366,"c7":0.267,"c8":0.1576}
]},
"hconcat":[
{"width":40,"height":691,"resolve":{"axis":{"x":"independent","y":"independent"}},"layer":[
 {"data":{"name":"g"},"mark":{"type":"line","color":"#cc0000","strokeWidth":0.9,"clip":true},
  "encoding":{
   "x":{"field":"a","type":"quantitative","scale":{"domain":[0,180],"reverse":true,"nice":false,"zero":false},
    "axis":{"orient":"bottom","values":[0,22.5,45,67.5,90,112.5,135,157.5,180],"labelExpr":"datum.value==180||datum.value==0?format(datum.value,'.1f'):''","labelBaseline":{"condition":{"test":"datum.value>90","value":"top"},"value":"bottom"},"title":"ANGP"}},
   "y":{"field":"t","type":"quantitative","scale":{"domain":[0,1800],"nice":false,"zero":false},
    "axis":{"orient":"left","values":[0,60,120,180,240,300,360,420,480,540,600,660,720,780,840,900,960,1020,1080,1140,1200,1260,1320,1380,1440,1500,1560,1620,1680,1740,1800],"title":"22.5 (deg)/div"}},
   "order":{"field":"t","type":"quantitative"}}},
 {"data":{"name":"g"},"mark":{"type":"line","strokeOpacity":0},
  "encoding":{
   "x":{"field":"a","type":"quantitative","scale":{"domain":[0,180],"reverse":true,"nice":false,"zero":false},
    "axis":{"orient":"top","values":[0,22.5,45,67.5,90,112.5,135,157.5,180],"labels":false,"title":null}},
   "y":{"field":"t","type":"quantitative","scale":{"domain":[0,1800],"nice":false,"zero":false},
    "axis":{"orient":"right","values":[0,60,120,180,240,300,360,420,480,540,600,660,720,780,840,900,960,1020,1080,1140,1200,1260,1320,1380,1440,1500,1560,1620,1680,1740,1800],"labels":false,"title":null}},
   "order":{"field":"t","type":"quantitative"}}},
 {"data":{"values":[{"t":600},{"t":1200}]},"mark":{"type":"tick","orient":"horizontal","size":14,"thickness":1.5,"color":"black"},
  "encoding":{"x":{"datum":180,"type":"quantitative","scale":{"domain":[0,180],"reverse":true,"nice":false,"zero":false},"axis":null},
   "y":{"field":"t","type":"quantitative","scale":{"domain":[0,1800],"nice":false,"zero":false},"axis":null}}},
 {"data":{"values":[{"t":600},{"t":1200}]},"mark":{"type":"tick","orient":"horizontal","size":14,"thickness":1.5,"color":"black"},
  "encoding":{"x":{"datum":0,"type":"quantitative","scale":{"domain":[0,180],"reverse":true,"nice":false,"zero":false},"axis":null},
   "y":{"field":"t","type":"quantitative","scale":{"domain":[0,1800],"nice":false,"zero":false},"axis":null}}},
 {"data":{"values":[{"s":"2026 07/11 03:15:24UT - 2026 07/11 03:45:23UT"}]},"mark":{"type":"text","angle":270,"align":"right","baseline":"middle","dy":-10,"fontSize":13.5,"color":"black"},
  "encoding":{"x":{"datum":180,"type":"quantitative","scale":{"domain":[0,180],"reverse":true,"nice":false,"zero":false},"axis":null},
   "y":{"datum":1800,"type":"quantitative","scale":{"domain":[0,1800],"nice":false,"zero":false},"axis":null},
   "text":{"field":"s"}}}
]},
{"width":40,"height":691,"resolve":{"axis":{"x":"independent","y":"independent"}},"layer":[
 {"data":{"name":"d"},"mark":{"type":"line","color":"#ff0000","strokeWidth":1.1,"clip":true},
  "encoding":{
   "x":{"field":"c1","type":"quantitative","scale":{"domain":[0.2,0.4],"reverse":true,"nice":false,"zero":false},
    "axis":{"orient":"bottom","values":[0.2,0.22,0.24,0.26,0.28,0.3,0.32,0.34,0.36,0.38,0.4],"labelExpr":"abs(datum.value-0.4)<1e-6||abs(datum.value-0.2)<1e-6?format(datum.value,'.1f'):''","labelBaseline":{"condition":{"test":"datum.value>0.3","value":"top"},"value":"bottom"},"title":"CH1(V)"}},
   "y":{"field":"t","type":"quantitative","scale":{"domain":[0,1800],"nice":false,"zero":false},
    "axis":{"orient":"left","values":[0,60,120,180,240,300,360,420,480,540,600,660,720,780,840,900,960,1020,1080,1140,1200,1260,1320,1380,1440,1500,1560,1620,1680,1740,1800],"title":"0.02 (V)/div"}},
   "order":{"field":"t","type":"quantitative"}}},
 {"data":{"name":"d"},"mark":{"type":"line","strokeOpacity":0},
  "encoding":{
   "x":{"field":"c1","type":"quantitative","scale":{"domain":[0.2,0.4],"reverse":true,"nice":false,"zero":false},
    "axis":{"orient":"top","values":[0.2,0.22,0.24,0.26,0.28,0.3,0.32,0.34,0.36,0.38,0.4],"labels":false,"title":null}},
   "y":{"field":"t","type":"quantitative","scale":{"domain":[0,1800],"nice":false,"zero":false},
    "axis":{"orient":"right","values":[0,60,120,180,240,300,360,420,480,540,600,660,720,780,840,900,960,1020,1080,1140,1200,1260,1320,1380,1440,1500,1560,1620,1680,1740,1800],"labels":false,"title":null}},
   "order":{"field":"t","type":"quantitative"}}},
 {"data":{"values":[{"t":600},{"t":1200}]},"mark":{"type":"tick","orient":"horizontal","size":14,"thickness":1.5,"color":"black"},
  "encoding":{"x":{"datum":0.4,"type":"quantitative","scale":{"domain":[0.2,0.4],"reverse":true,"nice":false,"zero":false},"axis":null},
   "y":{"field":"t","type":"quantitative","scale":{"domain":[0,1800],"nice":false,"zero":false},"axis":null}}},
 {"data":{"values":[{"t":600},{"t":1200}]},"mark":{"type":"tick","orient":"horizontal","size":14,"thickness":1.5,"color":"black"},
  "encoding":{"x":{"datum":0.2,"type":"quantitative","scale":{"domain":[0.2,0.4],"reverse":true,"nice":false,"zero":false},"axis":null},
   "y":{"field":"t","type":"quantitative","scale":{"domain":[0,1800],"nice":false,"zero":false},"axis":null}}}
]},
{"width":40,"height":691,"resolve":{"axis":{"x":"independent","y":"independent"}},"layer":[
 {"data":{"name":"d"},"mark":{"type":"line","color":"#ff0000","strokeWidth":1.1,"clip":true},
  "encoding":{
   "x":{"field":"c2","type":"quantitative","scale":{"domain":[0.26,0.54],"reverse":true,"nice":false,"zero":false},
    "axis":{"orient":"bottom","values":[0.26,0.288,0.316,0.344,0.372,0.4,0.428,0.456,0.484,0.512,0.54],"labelExpr":"abs(datum.value-0.54)<1e-6||abs(datum.value-0.26)<1e-6?format(datum.value,'.1f'):''","labelBaseline":{"condition":{"test":"datum.value>0.4","value":"top"},"value":"bottom"},"title":"CH2(V)"}},
   "y":{"field":"t","type":"quantitative","scale":{"domain":[0,1800],"nice":false,"zero":false},
    "axis":{"orient":"left","values":[0,60,120,180,240,300,360,420,480,540,600,660,720,780,840,900,960,1020,1080,1140,1200,1260,1320,1380,1440,1500,1560,1620,1680,1740,1800],"title":"0.03 (V)/div"}},
   "order":{"field":"t","type":"quantitative"}}},
 {"data":{"name":"d"},"mark":{"type":"line","strokeOpacity":0},
  "encoding":{
   "x":{"field":"c2","type":"quantitative","scale":{"domain":[0.26,0.54],"reverse":true,"nice":false,"zero":false},
    "axis":{"orient":"top","values":[0.26,0.288,0.316,0.344,0.372,0.4,0.428,0.456,0.484,0.512,0.54],"labels":false,"title":null}},
   "y":{"field":"t","type":"quantitative","scale":{"domain":[0,1800],"nice":false,"zero":false},
    "axis":{"orient":"right","values":[0,60,120,180,240,300,360,420,480,540,600,660,720,780,840,900,960,1020,1080,1140,1200,1260,1320,1380,1440,1500,1560,1620,1680,1740,1800],"labels":false,"title":null}},
   "order":{"field":"t","type":"quantitative"}}},
 {"data":{"values":[{"t":600},{"t":1200}]},"mark":{"type":"tick","orient":"horizontal","size":14,"thickness":1.5,"color":"black"},
  "encoding":{"x":{"datum":0.54,"type":"quantitative","scale":{"domain":[0.26,0.54],"reverse":true,"nice":false,"zero":false},"axis":null},
   "y":{"field":"t","type":"quantitative","scale":{"domain":[0,1800],"nice":false,"zero":false},"axis":null}}},
 {"data":{"values":[{"t":600},{"t":1200}]},"mark":{"type":"tick","orient":"horizontal","size":14,"thickness":1.5,"color":"black"},
  "encoding":{"x":{"datum":0.26,"type":"quantitative","scale":{"domain":[0.26,0.54],"reverse":true,"nice":false,"zero":false},"axis":null},
   "y":{"field":"t","type":"quantitative","scale":{"domain":[0,1800],"nice":false,"zero":false},"axis":null}}}
]},
{"width":40,"height":691,"resolve":{"axis":{"x":"independent","y":"independent"}},"layer":[
 {"data":{"name":"d"},"mark":{"type":"line","color":"#ff0000","strokeWidth":1.1,"clip":true},
  "encoding":{
   "x":{"field":"c3","type":"quantitative","scale":{"domain":[0.2,0.5],"reverse":true,"nice":false,"zero":false},
    "axis":{"orient":"bottom","values":[0.2,0.23,0.26,0.29,0.32,0.35,0.38,0.41,0.44,0.47,0.5],"labelExpr":"abs(datum.value-0.5)<1e-6||abs(datum.value-0.2)<1e-6?format(datum.value,'.1f'):''","labelBaseline":{"condition":{"test":"datum.value>0.35","value":"top"},"value":"bottom"},"title":"CH3(V)"}},
   "y":{"field":"t","type":"quantitative","scale":{"domain":[0,1800],"nice":false,"zero":false},
    "axis":{"orient":"left","values":[0,60,120,180,240,300,360,420,480,540,600,660,720,780,840,900,960,1020,1080,1140,1200,1260,1320,1380,1440,1500,1560,1620,1680,1740,1800],"title":"0.03 (V)/div"}},
   "order":{"field":"t","type":"quantitative"}}},
 {"data":{"name":"d"},"mark":{"type":"line","strokeOpacity":0},
  "encoding":{
   "x":{"field":"c3","type":"quantitative","scale":{"domain":[0.2,0.5],"reverse":true,"nice":false,"zero":false},
    "axis":{"orient":"top","values":[0.2,0.23,0.26,0.29,0.32,0.35,0.38,0.41,0.44,0.47,0.5],"labels":false,"title":null}},
   "y":{"field":"t","type":"quantitative","scale":{"domain":[0,1800],"nice":false,"zero":false},
    "axis":{"orient":"right","values":[0,60,120,180,240,300,360,420,480,540,600,660,720,780,840,900,960,1020,1080,1140,1200,1260,1320,1380,1440,1500,1560,1620,1680,1740,1800],"labels":false,"title":null}},
   "order":{"field":"t","type":"quantitative"}}},
 {"data":{"values":[{"t":600},{"t":1200}]},"mark":{"type":"tick","orient":"horizontal","size":14,"thickness":1.5,"color":"black"},
  "encoding":{"x":{"datum":0.5,"type":"quantitative","scale":{"domain":[0.2,0.5],"reverse":true,"nice":false,"zero":false},"axis":null},
   "y":{"field":"t","type":"quantitative","scale":{"domain":[0,1800],"nice":false,"zero":false},"axis":null}}},
 {"data":{"values":[{"t":600},{"t":1200}]},"mark":{"type":"tick","orient":"horizontal","size":14,"thickness":1.5,"color":"black"},
  "encoding":{"x":{"datum":0.2,"type":"quantitative","scale":{"domain":[0.2,0.5],"reverse":true,"nice":false,"zero":false},"axis":null},
   "y":{"field":"t","type":"quantitative","scale":{"domain":[0,1800],"nice":false,"zero":false},"axis":null}}}
]},
{"width":40,"height":691,"resolve":{"axis":{"x":"independent","y":"independent"}},"layer":[
 {"data":{"name":"d"},"mark":{"type":"line","color":"#ff0000","strokeWidth":1.1,"clip":true},
  "encoding":{
   "x":{"field":"c4","type":"quantitative","scale":{"domain":[0.17,0.43],"reverse":true,"nice":false,"zero":false},
    "axis":{"orient":"bottom","values":[0.17,0.196,0.222,0.248,0.274,0.3,0.326,0.352,0.378,0.404,0.43],"labelExpr":"abs(datum.value-0.43)<1e-6||abs(datum.value-0.17)<1e-6?format(datum.value,'.1f'):''","labelBaseline":{"condition":{"test":"datum.value>0.3","value":"top"},"value":"bottom"},"title":"CH4(V)"}},
   "y":{"field":"t","type":"quantitative","scale":{"domain":[0,1800],"nice":false,"zero":false},
    "axis":{"orient":"left","values":[0,60,120,180,240,300,360,420,480,540,600,660,720,780,840,900,960,1020,1080,1140,1200,1260,1320,1380,1440,1500,1560,1620,1680,1740,1800],"title":"0.03 (V)/div"}},
   "order":{"field":"t","type":"quantitative"}}},
 {"data":{"name":"d"},"mark":{"type":"line","strokeOpacity":0},
  "encoding":{
   "x":{"field":"c4","type":"quantitative","scale":{"domain":[0.17,0.43],"reverse":true,"nice":false,"zero":false},
    "axis":{"orient":"top","values":[0.17,0.196,0.222,0.248,0.274,0.3,0.326,0.352,0.378,0.404,0.43],"labels":false,"title":null}},
   "y":{"field":"t","type":"quantitative","scale":{"domain":[0,1800],"nice":false,"zero":false},
    "axis":{"orient":"right","values":[0,60,120,180,240,300,360,420,480,540,600,660,720,780,840,900,960,1020,1080,1140,1200,1260,1320,1380,1440,1500,1560,1620,1680,1740,1800],"labels":false,"title":null}},
   "order":{"field":"t","type":"quantitative"}}},
 {"data":{"values":[{"t":600},{"t":1200}]},"mark":{"type":"tick","orient":"horizontal","size":14,"thickness":1.5,"color":"black"},
  "encoding":{"x":{"datum":0.43,"type":"quantitative","scale":{"domain":[0.17,0.43],"reverse":true,"nice":false,"zero":false},"axis":null},
   "y":{"field":"t","type":"quantitative","scale":{"domain":[0,1800],"nice":false,"zero":false},"axis":null}}},
 {"data":{"values":[{"t":600},{"t":1200}]},"mark":{"type":"tick","orient":"horizontal","size":14,"thickness":1.5,"color":"black"},
  "encoding":{"x":{"datum":0.17,"type":"quantitative","scale":{"domain":[0.17,0.43],"reverse":true,"nice":false,"zero":false},"axis":null},
   "y":{"field":"t","type":"quantitative","scale":{"domain":[0,1800],"nice":false,"zero":false},"axis":null}}}
]},
{"width":40,"height":691,"resolve":{"axis":{"x":"independent","y":"independent"}},"layer":[
 {"data":{"name":"d"},"mark":{"type":"line","color":"#ff0000","strokeWidth":1.1,"clip":true},
  "encoding":{
   "x":{"field":"c5","type":"quantitative","scale":{"domain":[0.46,0.82],"reverse":true,"nice":false,"zero":false},
    "axis":{"orient":"bottom","values":[0.46,0.496,0.532,0.568,0.604,0.64,0.676,0.712,0.748,0.784,0.82],"labelExpr":"abs(datum.value-0.82)<1e-6||abs(datum.value-0.46)<1e-6?format(datum.value,'.1f'):''","labelBaseline":{"condition":{"test":"datum.value>0.64","value":"top"},"value":"bottom"},"title":"CH5(V)"}},
   "y":{"field":"t","type":"quantitative","scale":{"domain":[0,1800],"nice":false,"zero":false},
    "axis":{"orient":"left","values":[0,60,120,180,240,300,360,420,480,540,600,660,720,780,840,900,960,1020,1080,1140,1200,1260,1320,1380,1440,1500,1560,1620,1680,1740,1800],"title":"0.04 (V)/div"}},
   "order":{"field":"t","type":"quantitative"}}},
 {"data":{"name":"d"},"mark":{"type":"line","strokeOpacity":0},
  "encoding":{
   "x":{"field":"c5","type":"quantitative","scale":{"domain":[0.46,0.82],"reverse":true,"nice":false,"zero":false},
    "axis":{"orient":"top","values":[0.46,0.496,0.532,0.568,0.604,0.64,0.676,0.712,0.748,0.784,0.82],"labels":false,"title":null}},
   "y":{"field":"t","type":"quantitative","scale":{"domain":[0,1800],"nice":false,"zero":false},
    "axis":{"orient":"right","values":[0,60,120,180,240,300,360,420,480,540,600,660,720,780,840,900,960,1020,1080,1140,1200,1260,1320,1380,1440,1500,1560,1620,1680,1740,1800],"labels":false,"title":null}},
   "order":{"field":"t","type":"quantitative"}}},
 {"data":{"values":[{"t":600},{"t":1200}]},"mark":{"type":"tick","orient":"horizontal","size":14,"thickness":1.5,"color":"black"},
  "encoding":{"x":{"datum":0.82,"type":"quantitative","scale":{"domain":[0.46,0.82],"reverse":true,"nice":false,"zero":false},"axis":null},
   "y":{"field":"t","type":"quantitative","scale":{"domain":[0,1800],"nice":false,"zero":false},"axis":null}}},
 {"data":{"values":[{"t":600},{"t":1200}]},"mark":{"type":"tick","orient":"horizontal","size":14,"thickness":1.5,"color":"black"},
  "encoding":{"x":{"datum":0.46,"type":"quantitative","scale":{"domain":[0.46,0.82],"reverse":true,"nice":false,"zero":false},"axis":null},
   "y":{"field":"t","type":"quantitative","scale":{"domain":[0,1800],"nice":false,"zero":false},"axis":null}}}
]},
{"width":40,"height":691,"resolve":{"axis":{"x":"independent","y":"independent"}},"layer":[
 {"data":{"name":"d"},"mark":{"type":"line","color":"#ff0000","strokeWidth":1.1,"clip":true},
  "encoding":{
   "x":{"field":"c6","type":"quantitative","scale":{"domain":[0.26,0.54],"reverse":true,"nice":false,"zero":false},
    "axis":{"orient":"bottom","values":[0.26,0.288,0.316,0.344,0.372,0.4,0.428,0.456,0.484,0.512,0.54],"labelExpr":"abs(datum.value-0.54)<1e-6||abs(datum.value-0.26)<1e-6?format(datum.value,'.1f'):''","labelBaseline":{"condition":{"test":"datum.value>0.4","value":"top"},"value":"bottom"},"title":"CH6(V)"}},
   "y":{"field":"t","type":"quantitative","scale":{"domain":[0,1800],"nice":false,"zero":false},
    "axis":{"orient":"left","values":[0,60,120,180,240,300,360,420,480,540,600,660,720,780,840,900,960,1020,1080,1140,1200,1260,1320,1380,1440,1500,1560,1620,1680,1740,1800],"title":"0.03 (V)/div"}},
   "order":{"field":"t","type":"quantitative"}}},
 {"data":{"name":"d"},"mark":{"type":"line","strokeOpacity":0},
  "encoding":{
   "x":{"field":"c6","type":"quantitative","scale":{"domain":[0.26,0.54],"reverse":true,"nice":false,"zero":false},
    "axis":{"orient":"top","values":[0.26,0.288,0.316,0.344,0.372,0.4,0.428,0.456,0.484,0.512,0.54],"labels":false,"title":null}},
   "y":{"field":"t","type":"quantitative","scale":{"domain":[0,1800],"nice":false,"zero":false},
    "axis":{"orient":"right","values":[0,60,120,180,240,300,360,420,480,540,600,660,720,780,840,900,960,1020,1080,1140,1200,1260,1320,1380,1440,1500,1560,1620,1680,1740,1800],"labels":false,"title":null}},
   "order":{"field":"t","type":"quantitative"}}},
 {"data":{"values":[{"t":600},{"t":1200}]},"mark":{"type":"tick","orient":"horizontal","size":14,"thickness":1.5,"color":"black"},
  "encoding":{"x":{"datum":0.54,"type":"quantitative","scale":{"domain":[0.26,0.54],"reverse":true,"nice":false,"zero":false},"axis":null},
   "y":{"field":"t","type":"quantitative","scale":{"domain":[0,1800],"nice":false,"zero":false},"axis":null}}},
 {"data":{"values":[{"t":600},{"t":1200}]},"mark":{"type":"tick","orient":"horizontal","size":14,"thickness":1.5,"color":"black"},
  "encoding":{"x":{"datum":0.26,"type":"quantitative","scale":{"domain":[0.26,0.54],"reverse":true,"nice":false,"zero":false},"axis":null},
   "y":{"field":"t","type":"quantitative","scale":{"domain":[0,1800],"nice":false,"zero":false},"axis":null}}}
]},
{"width":40,"height":691,"resolve":{"axis":{"x":"independent","y":"independent"}},"layer":[
 {"data":{"name":"d"},"mark":{"type":"line","color":"#ff0000","strokeWidth":1.1,"clip":true},
  "encoding":{
   "x":{"field":"c7","type":"quantitative","scale":{"domain":[0.2,0.4],"reverse":true,"nice":false,"zero":false},
    "axis":{"orient":"bottom","values":[0.2,0.22,0.24,0.26,0.28,0.3,0.32,0.34,0.36,0.38,0.4],"labelExpr":"abs(datum.value-0.4)<1e-6||abs(datum.value-0.2)<1e-6?format(datum.value,'.1f'):''","labelBaseline":{"condition":{"test":"datum.value>0.3","value":"top"},"value":"bottom"},"title":"CH7(V)"}},
   "y":{"field":"t","type":"quantitative","scale":{"domain":[0,1800],"nice":false,"zero":false},
    "axis":{"orient":"left","values":[0,60,120,180,240,300,360,420,480,540,600,660,720,780,840,900,960,1020,1080,1140,1200,1260,1320,1380,1440,1500,1560,1620,1680,1740,1800],"title":"0.02 (V)/div"}},
   "order":{"field":"t","type":"quantitative"}}},
 {"data":{"name":"d"},"mark":{"type":"line","strokeOpacity":0},
  "encoding":{
   "x":{"field":"c7","type":"quantitative","scale":{"domain":[0.2,0.4],"reverse":true,"nice":false,"zero":false},
    "axis":{"orient":"top","values":[0.2,0.22,0.24,0.26,0.28,0.3,0.32,0.34,0.36,0.38,0.4],"labels":false,"title":null}},
   "y":{"field":"t","type":"quantitative","scale":{"domain":[0,1800],"nice":false,"zero":false},
    "axis":{"orient":"right","values":[0,60,120,180,240,300,360,420,480,540,600,660,720,780,840,900,960,1020,1080,1140,1200,1260,1320,1380,1440,1500,1560,1620,1680,1740,1800],"labels":false,"title":null}},
   "order":{"field":"t","type":"quantitative"}}},
 {"data":{"values":[{"t":600},{"t":1200}]},"mark":{"type":"tick","orient":"horizontal","size":14,"thickness":1.5,"color":"black"},
  "encoding":{"x":{"datum":0.4,"type":"quantitative","scale":{"domain":[0.2,0.4],"reverse":true,"nice":false,"zero":false},"axis":null},
   "y":{"field":"t","type":"quantitative","scale":{"domain":[0,1800],"nice":false,"zero":false},"axis":null}}},
 {"data":{"values":[{"t":600},{"t":1200}]},"mark":{"type":"tick","orient":"horizontal","size":14,"thickness":1.5,"color":"black"},
  "encoding":{"x":{"datum":0.2,"type":"quantitative","scale":{"domain":[0.2,0.4],"reverse":true,"nice":false,"zero":false},"axis":null},
   "y":{"field":"t","type":"quantitative","scale":{"domain":[0,1800],"nice":false,"zero":false},"axis":null}}}
]},
{"width":40,"height":691,"resolve":{"axis":{"x":"independent","y":"independent"}},"layer":[
 {"data":{"name":"d"},"mark":{"type":"line","color":"#ff0000","strokeWidth":1.1,"clip":true},
  "encoding":{
   "x":{"field":"c8","type":"quantitative","scale":{"domain":[0.14,0.17],"reverse":true,"nice":false,"zero":false},
    "axis":{"orient":"bottom","values":[0.14,0.143,0.146,0.149,0.152,0.155,0.158,0.161,0.164,0.167,0.17],"labelExpr":"abs(datum.value-0.17)<1e-6||abs(datum.value-0.14)<1e-6?format(datum.value,'.1f'):''","labelBaseline":{"condition":{"test":"datum.value>0.155","value":"top"},"value":"bottom"},"title":"CH8(V)"}},
   "y":{"field":"t","type":"quantitative","scale":{"domain":[0,1800],"nice":false,"zero":false},
    "axis":{"orient":"left","values":[0,60,120,180,240,300,360,420,480,540,600,660,720,780,840,900,960,1020,1080,1140,1200,1260,1320,1380,1440,1500,1560,1620,1680,1740,1800],"title":"0.00 (V)/div"}},
   "order":{"field":"t","type":"quantitative"}}},
 {"data":{"name":"d"},"mark":{"type":"line","strokeOpacity":0},
  "encoding":{
   "x":{"field":"c8","type":"quantitative","scale":{"domain":[0.14,0.17],"reverse":true,"nice":false,"zero":false},
    "axis":{"orient":"top","values":[0.14,0.143,0.146,0.149,0.152,0.155,0.158,0.161,0.164,0.167,0.17],"labels":false,"title":null}},
   "y":{"field":"t","type":"quantitative","scale":{"domain":[0,1800],"nice":false,"zero":false},
    "axis":{"orient":"right","values":[0,60,120,180,240,300,360,420,480,540,600,660,720,780,840,900,960,1020,1080,1140,1200,1260,1320,1380,1440,1500,1560,1620,1680,1740,1800],"labels":true,"labelExpr":"datum.value%600==0?'03'+(15+datum.value/60):''","labelAngle":270,"labelAlign":"center","labelBaseline":"middle","labelPadding":16,"labelFontSize":13.5,"labelOverlap":false,"labelBound":false,"title":"TIME(UT)","titleAngle":270,"titleX":33,"titleY":345.5,"titleAlign":"center","titleBaseline":"middle","titleFontSize":17}},
   "order":{"field":"t","type":"quantitative"}}},
 {"data":{"values":[{"t":600},{"t":1200}]},"mark":{"type":"tick","orient":"horizontal","size":14,"thickness":1.5,"color":"black"},
  "encoding":{"x":{"datum":0.17,"type":"quantitative","scale":{"domain":[0.14,0.17],"reverse":true,"nice":false,"zero":false},"axis":null},
   "y":{"field":"t","type":"quantitative","scale":{"domain":[0,1800],"nice":false,"zero":false},"axis":null}}},
 {"data":{"values":[{"t":600},{"t":1200}]},"mark":{"type":"tick","orient":"horizontal","size":14,"thickness":1.5,"color":"black"},
  "encoding":{"x":{"datum":0.14,"type":"quantitative","scale":{"domain":[0.14,0.17],"reverse":true,"nice":false,"zero":false},"axis":null},
   "y":{"field":"t","type":"quantitative","scale":{"domain":[0,1800],"nice":false,"zero":false},"axis":null}}}
]}
],
"config":{
 "font":"Liberation Sans",
 "view":{"stroke":"black","strokeWidth":2},
 "title":{"font":"Liberation Sans","fontWeight":"normal","color":"black"},
 "axis":{"domain":false,"grid":false,"tickSize":-4,"tickWidth":1,"tickColor":"black","labelColor":"black","titleColor":"black","titleFontWeight":"normal","labelFont":"Liberation Sans","titleFont":"Liberation Sans"},
 "axisBottom":{"labelAngle":270,"labelAlign":"right","labelPadding":25,"labelFontSize":10,"labelOverlap":false,"labelBound":false,"labelFlush":false,"titleAngle":180,"titleX":20,"titleY":11,"titleAlign":"center","titleBaseline":"middle","titleFontSize":11.5},
 "axisLeft":{"labels":false,"titleAngle":270,"titleX":-9,"titleY":691,"titleAlign":"left","titleBaseline":"middle","titleFontSize":13.5},
 "axisTop":{"labels":false},
 "axisRight":{"labels":false}
}
}
